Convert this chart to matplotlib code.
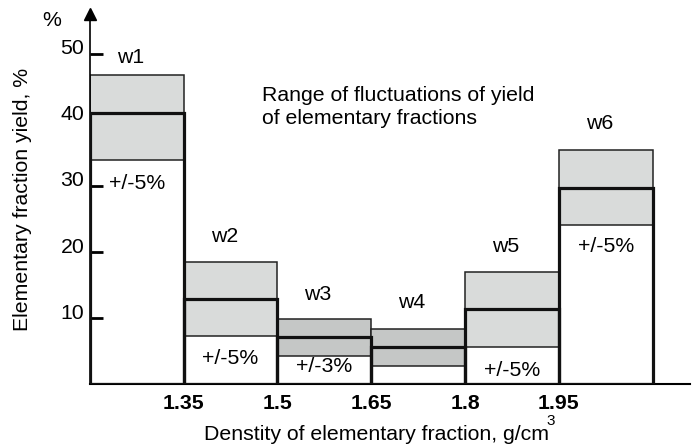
import matplotlib.pyplot as plt
from matplotlib.transforms import ScaledTranslation

plt.rcParams['font.family'] = ['Liberation Sans', 'DejaVu Sans']

# fraction boundaries (g/cm3) and yields (%)
edges = [1.2, 1.35, 1.5, 1.65, 1.8, 1.95, 2.1]
names = ['w1', 'w2', 'w3', 'w4', 'w5', 'w6']
mean_yield = [41.0, 12.8, 7.1, 5.6, 11.4, 29.7]
low_yield = [33.9, 7.2, 4.2, 2.7, 5.6, 24.1]
high_yield = [46.8, 18.5, 9.8, 8.3, 17.0, 35.5]
ranges = ['+/-5%', '+/-5%', '+/-3%', '', '+/-5%', '+/-5%']
name_y = [49.5, 22.3, 13.5, 12.3, 20.8, 39.4]
range_y = [30.4, 3.8, 2.6, None, 2.1, 20.9]
band_colors = ['#d9dbda', '#d9dbda', '#c5c7c6', '#c5c7c6', '#d9dbda', '#d9dbda']
xticks = [1.35, 1.5, 1.65, 1.8, 1.95]
yticks = [10, 20, 30, 40, 50]

fig = plt.figure(figsize=(6.97, 4.47), dpi=100)
ax = fig.add_axes([0.129, 0.141, 0.861, 0.827])

lefts = edges[:-1]
width = 0.15
fs = 15.3

# white bars below, grey ranges, thick outline on top
ax.bar(lefts, mean_yield, width=width, align='edge', color='white', zorder=1)
ax.bar(lefts, [h - l for h, l in zip(high_yield, low_yield)], bottom=low_yield,
       width=width, align='edge', color=band_colors, edgecolor='#222222',
       linewidth=1.1, zorder=2)
ax.bar(lefts, mean_yield, width=width, align='edge', fill=False,
       edgecolor='#111111', linewidth=2.3, zorder=3)

for i in range(len(names)):
    cx = lefts[i] + width / 2
    ax.text(cx - 0.01, name_y[i], names[i], ha='center', va='center', fontsize=fs)
    if range_y[i] is not None:
        ax.text(cx, range_y[i], ranges[i], ha='center', va='center', fontsize=fs, zorder=4)

ax.text(1.475, 42.0, 'Range of fluctuations of yield\nof elementary fractions',
        ha='left', va='center', fontsize=fs, linespacing=1.25)

ax.set_xlim(1.2, 2.16)
ax.set_ylim(0, 56)
for s in ['top', 'right']:
    ax.spines[s].set_visible(False)
ax.spines['left'].set_linewidth(1.2)
ax.spines['bottom'].set_linewidth(1.5)
ax.plot(0, 1, marker='^', color='black', markersize=9, transform=ax.transAxes, clip_on=False)

ax.set_yticks(yticks)
ax.tick_params(axis='y', direction='in', length=9, width=2, labelsize=fs, pad=4)
off = ScaledTranslation(0, 5 / 72, fig.dpi_scale_trans)
for lab in ax.get_yticklabels():
    lab.set_transform(lab.get_transform() + off)

ax.set_xticks(xticks)
ax.set_xticklabels([f'{x:g}' for x in xticks], fontweight='bold')
ax.tick_params(axis='x', length=0, labelsize=fs, pad=7)

ax.set_xlabel('Denstity of elementary fraction, g/cm', fontsize=fs)
ax.xaxis.set_label_coords(0.477, -0.112)
fig.text(0.7905, 0.058, '3', fontsize=11, ha='center', va='center')
ax.set_ylabel('Elementary fraction yield, %', fontsize=fs)
ax.yaxis.set_label_coords(-0.097, 0.5)
ax.text(-0.063, 0.984, '%', transform=ax.transAxes, fontsize=fs, ha='center', va='center')

fig.savefig('out.png', dpi=100)
